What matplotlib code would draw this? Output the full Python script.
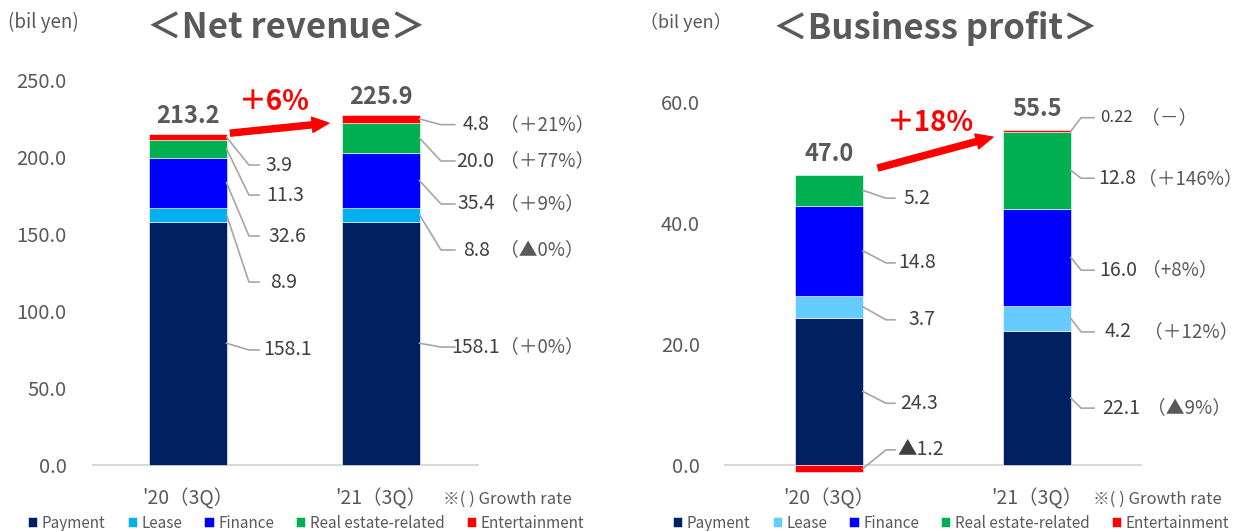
import matplotlib
matplotlib.use("Agg")
import matplotlib.pyplot as plt

plt.rcParams['font.family'] = ['Noto Sans CJK JP', 'DejaVu Sans']

periods = ["'20（3Q）", "'21（3Q）"]
segments = ["Payment", "Lease", "Finance", "Real estate-related", "Entertainment"]

# Net revenue (bil yen)
rev_payment = [158.1, 158.1]
rev_lease = [8.9, 8.8]
rev_finance = [32.6, 35.4]
rev_real_estate = [11.3, 20.0]
rev_entertainment = [3.9, 4.8]
rev_total = [213.2, 225.9]
rev_growth = ["（＋0%）", "（▲0%）", "（＋9%）", "（＋77%）", "（＋21%）"]
rev_total_growth = "＋6%"

# Business profit (bil yen)
bp_payment = [24.3, 22.1]
bp_lease = [3.7, 4.2]
bp_finance = [14.8, 16.0]
bp_real_estate = [5.2, 12.8]
bp_entertainment = [-1.2, 0.22]
bp_total = [47.0, 55.5]
bp_growth = ["（▲9%）", "（＋12%）", "（+8%）", "（＋146%）", "（－）"]
bp_total_growth = "＋18%"

GRAY = "#595959"
DARK = "#404040"
LINE = "#A6A6A6"


def fmt(v):
    s = f"{abs(v):.2f}" if abs(v) < 1 else f"{abs(v):.1f}"
    return ("▲" + s) if v < 0 else s


def stacked(ax, series, colors, width):
    pos = [0.0, 0.0]
    neg = [0.0, 0.0]
    mids = []
    for vals, c in zip(series, colors):
        bottoms = [pos[i] if v >= 0 else neg[i] for i, v in enumerate(vals)]
        ax.bar([0, 1], vals, width, bottom=bottoms, color=c,
               edgecolor="white", linewidth=0.4, clip_on=False, zorder=2)
        mids.append([b + v / 2 for b, v in zip(bottoms, vals)])
        for i, v in enumerate(vals):
            if v >= 0:
                pos[i] += v
            else:
                neg[i] += v
    return mids, pos


def leaders(ax, mids, series, bar, label_y, xs, tx, growth=None, gx=None):
    edge, elbow, end = xs
    if not isinstance(tx, list):
        tx = [tx] * len(series)
    if gx is not None and not isinstance(gx, list):
        gx = [gx] * len(series)
    for k, vals in enumerate(series):
        y0 = mids[k][bar]
        y1 = label_y[k]
        ax.plot([edge, elbow, end], [y0, y1, y1], color=LINE, lw=1.2,
                clip_on=False, zorder=3)
        v = vals[bar]
        ax.text(tx[k], y1, fmt(v), ha="left", va="center", color=DARK,
                fontsize=12 if abs(v) < 1 else 14)
        if growth is not None:
            ax.text(gx[k], y1, growth[k], ha="left", va="center", color=GRAY,
                    fontsize=13.5)


def setup(ax, ylim, ticks, xlim, pad):
    ax.set_ylim(*ylim)
    ax.set_xlim(*xlim)
    ax.set_yticks(ticks)
    ax.set_yticklabels([f"{t:.1f}" for t in ticks])
    ax.tick_params(axis="y", length=0, pad=pad, labelsize=14.5, labelcolor=GRAY)
    ax.set_xticks([])
    for s in ax.spines.values():
        s.set_visible(False)
    ax.axhline(0, color="#D9D9D9", lw=1.5, zorder=1, clip_on=False)


fig = plt.figure(figsize=(12.48, 5.31), dpi=100)
W, H = 1248, 531

# ---- Net revenue ----
ax1 = fig.add_axes([93 / W, 1 - 465 / H, 385 / W, 385 / H])
setup(ax1, (0, 250), [0, 50, 100, 150, 200, 250], (-0.492, 1.503), 19)
rev_series = [rev_payment, rev_lease, rev_finance, rev_real_estate, rev_entertainment]
rev_colors = ["#002060", "#00B0F0", "#0000FF", "#00B050", "#FF0000"]
mids, tops = stacked(ax1, rev_series, rev_colors, 0.4)
leaders(ax1, mids, rev_series, 0, [74.7, 118.8, 148.7, 175.3, 194.8],
        (0.2, 0.316, 0.368), [0.389, 0.425, 0.415, 0.404, 0.404])
leaders(ax1, mids, rev_series, 1, [76.6, 139.6, 169.5, 197.4, 221.0],
        (1.2, 1.311, 1.383), [1.365, 1.425, 1.394, 1.389, 1.425], rev_growth, 1.615)
for i, t in enumerate(rev_total):
    ax1.annotate(f"{t:.1f}", (i, tops[i]), xytext=(0, 13), textcoords="offset points",
                 ha="center", va="center", fontsize=17, fontweight="bold", color=GRAY)
ax1.annotate("", xy=(0.73, 222), xytext=(0.22, 215.5),
             arrowprops=dict(arrowstyle="simple,head_length=0.6,head_width=0.55,tail_width=0.22",
                             color="#FF0000", mutation_scale=20, shrinkA=0, shrinkB=0))
ax1.text(0.446, 236, rev_total_growth, ha="center", va="center", color="#FF0000",
         fontsize=20, fontweight="bold")
for i, p in enumerate(periods):
    ax1.text(i, -22, p, ha="center", va="center", fontsize=14, color=GRAY)
ax1.text(1.32, -22, "※( ) Growth rate", ha="left", va="center", fontsize=12, color=GRAY)
ax1.legend(ax1.containers, segments, loc="center left", bbox_to_anchor=(-65 / 385, -58 / 385),
           ncol=5, frameon=False, fontsize=11, handlelength=0.6, handleheight=0.6,
           handletextpad=0.3, columnspacing=1.45, borderpad=0, borderaxespad=0,
           labelcolor=GRAY)
fig.text(8 / W, 1 - 22 / H, "(bil yen)", ha="left", va="center", fontsize=13.5, color=GRAY)
fig.text(286 / W, 1 - 28 / H, "＜Net revenue＞", ha="center", va="center", fontsize=25,
         fontweight="bold", color=GRAY)

# ---- Business profit ----
ax2 = fig.add_axes([725 / W, 1 - 465 / H, 416 / W, 363 / H])
setup(ax2, (0, 60), [0, 20, 40, 60], (-0.5, 1.5), 18)
bp_series = [bp_payment, bp_lease, bp_finance, bp_real_estate, bp_entertainment]
bp_colors = ["#002060", "#66CCFF", "#0000FF", "#00B050", "#FF0000"]
mids, tops = stacked(ax2, bp_series, bp_colors, 0.327)
leaders(ax2, mids, bp_series, 0, [10.2, 24.0, 33.4, 44.1, 2.5],
        (0.163, 0.274, 0.317), [0.341, 0.38, 0.332, 0.356, 0.327])
leaders(ax2, mids, bp_series, 1, [9.4, 22.0, 32.2, 47.4, 57.4],
        (1.163, 1.212, 1.274), [1.313, 1.327, 1.298, 1.295, 1.303],
        bp_growth, [1.53, 1.515, 1.505, 1.485, 1.50])
for i, t in enumerate(bp_total):
    ax2.annotate(f"{t:.1f}", (i, tops[i]), xytext=(0, 15), textcoords="offset points",
                 ha="center", va="center", fontsize=17, fontweight="bold", color=GRAY)
ax2.annotate("", xy=(0.788, 54.2), xytext=(0.236, 49.1),
             arrowprops=dict(arrowstyle="simple,head_length=0.6,head_width=0.55,tail_width=0.22",
                             color="#FF0000", mutation_scale=20, shrinkA=0, shrinkB=0))
ax2.text(0.486, 56.5, bp_total_growth, ha="center", va="center", color="#FF0000",
         fontsize=20, fontweight="bold")
for i, p in enumerate(periods):
    ax2.text(i, -5.6, p, ha="center", va="center", fontsize=14, color=GRAY)
ax2.text(1.27, -5.6, "※( ) Growth rate", ha="left", va="center", fontsize=12, color=GRAY)
ax2.legend(ax2.containers, segments, loc="center left", bbox_to_anchor=(-52 / 416, -58 / 363),
           ncol=5, frameon=False, fontsize=11, handlelength=0.6, handleheight=0.6,
           handletextpad=0.3, columnspacing=1.45, borderpad=0, borderaxespad=0,
           labelcolor=GRAY)
fig.text(640 / W, 1 - 22 / H, "（bil yen）", ha="left", va="center", fontsize=13, color=GRAY)
fig.text(935 / W, 1 - 28 / H, "＜Business profit＞", ha="center", va="center", fontsize=25,
         fontweight="bold", color=GRAY)

fig.savefig("out.png", dpi=100)
